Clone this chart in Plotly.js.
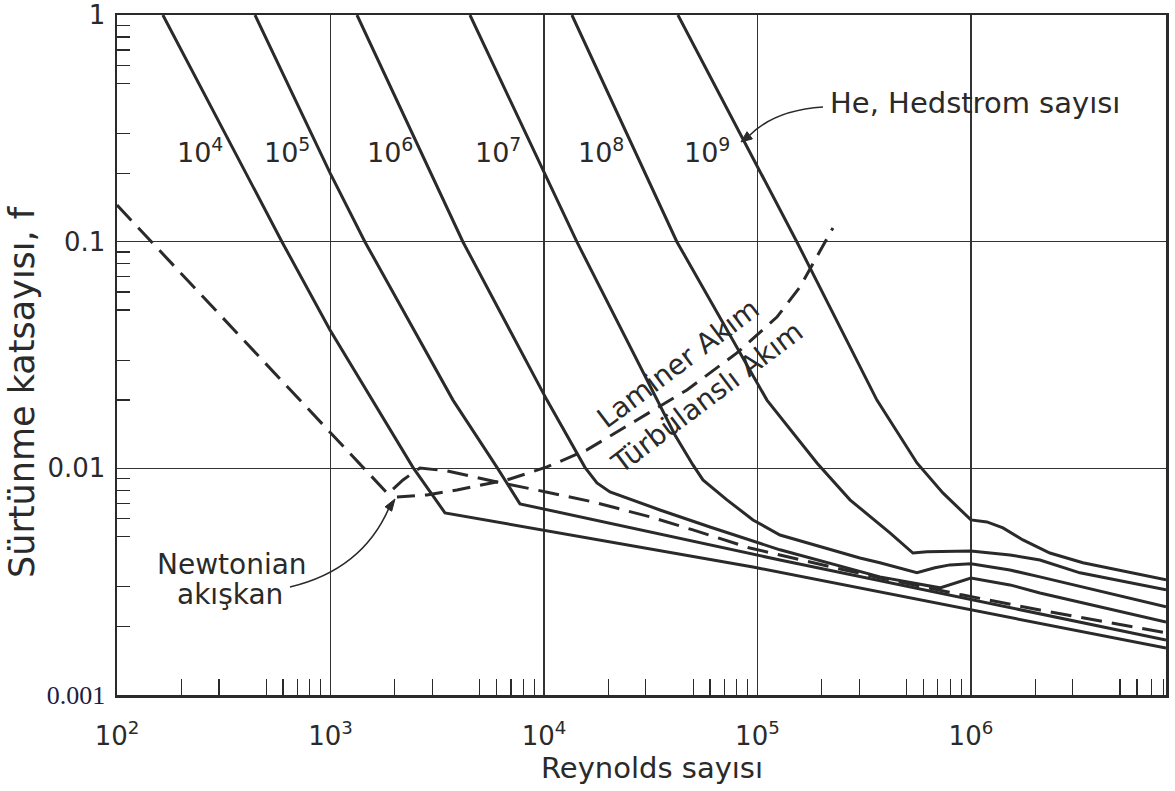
<!DOCTYPE html>
<html><head><meta charset="utf-8">
<script src="https://cdn.plot.ly/plotly-3.0.1.min.js"></script>
<style>html,body{margin:0;padding:0;background:#fff}#chart{width:1175px;height:791px}</style>
</head><body><div id="chart"></div>
<script>
// ---- data (Reynolds number, friction factor f) ----
const he4Re = [164, 593, 995, 1564, 2434, 3438, 95300, 8200000];
const he4F  = [1.0, 0.0997, 0.0408, 0.0200, 0.0101, 0.00636, 0.00367, 0.00161];

const he5Re = [443, 995, 1451, 3748, 6025, 7720, 127500, 8200000];
const he5F  = [1.0, 0.201, 0.0997, 0.0200, 0.0101, 0.00697, 0.00394, 0.00175];

const he6Re = [1331, 4175, 10330, 15560, 17710, 20380, 34940, 59920, 127500, 374800, 715800, 860000, 1000000, 1523000, 2105000, 8200000];
const he6F  = [1.0, 0.0997, 0.0200, 0.0101, 0.00862, 0.00787, 0.00655, 0.00551, 0.00437, 0.00332, 0.00297, 0.00315, 0.00328, 0.00306, 0.00282, 0.0021];

const he7Re = [4502, 14270, 41080, 49870, 55550, 71970, 95300, 127500, 302000, 374800, 558700, 678000, 797000, 1000000, 1523000, 2105000, 8200000];
const he7F  = [1.0, 0.0997, 0.01404, 0.01035, 0.00889, 0.00726, 0.00592, 0.00508, 0.00402, 0.00383, 0.00346, 0.00364, 0.00375, 0.00379, 0.00356, 0.00332, 0.00245];

const he8Re = [13520, 41980, 110800, 190000, 271300, 417500, 535000, 622000, 1000000, 1523000, 2105000, 3240000, 8200000];
const he8F  = [1.0, 0.0997, 0.0200, 0.01056, 0.00726, 0.00519, 0.00423, 0.00428, 0.00432, 0.00415, 0.00394, 0.00346, 0.00291];

const he9Re = [42420, 153100, 362800, 558700, 739000, 1000000, 1188000, 1413000, 1752000, 2344000, 3346000, 8200000];
const he9F  = [1.0, 0.0997, 0.0200, 0.01056, 0.00779, 0.00592, 0.0058, 0.00546, 0.00483, 0.00423, 0.00383, 0.00322];

const newtRe = [100, 1859, 2186, 2625, 3513, 4649, 6025, 10220, 16960, 31370, 49870, 92200, 375000, 917000, 2105000, 8200000];
const newtF  = [0.145, 0.00771, 0.00889, 0.01004, 0.00974, 0.00917, 0.00871, 0.00787, 0.00711, 0.00611, 0.00535, 0.00445, 0.00328, 0.00276, 0.00237, 0.00188];

const transRe = [2049, 2831, 3913, 6709, 10330, 15900, 27260, 46760, 80200, 123400, 158100, 225700];
const transF  = [0.00748, 0.00763, 0.00803, 0.00889, 0.01014, 0.01206, 0.01635, 0.02217, 0.0323, 0.0465, 0.0631, 0.1149];

const hedstromLabels = ['10<sup>4</sup>', '10<sup>5</sup>', '10<sup>6</sup>', '10<sup>7</sup>', '10<sup>8</sup>', '10<sup>9</sup>'];
const xTickVals = [100, 1000, 10000, 100000, 1000000];
const xTickText = ['10<sup>2</sup>', '10<sup>3</sup>', '10<sup>4</sup>', '10<sup>5</sup>', '10<sup>6</sup>'];
const yTickVals = [0.001, 0.01, 0.1, 1];
const yTickText = ['<span style="font-family:\'Liberation Serif\',serif;font-size:26px;fill:#1b2040">0.001</span>', '0.01', '0.1', '1'];
const minorDigits = [2, 3, 5, 6, 7, 8, 9];

// ---- styling ----
const INK = '#2a2a2a';
const FONT = 'DejaVu Sans, Liberation Sans, sans-serif';
const XMAX = 8200000;

function minorVals(lo, hi) {
  const out = [];
  for (let d = lo; d < hi; d++) minorDigits.forEach(m => out.push(m * Math.pow(10, d)));
  return out;
}

const solid = {color: INK, width: 3};
const curves = [[he4Re, he4F], [he5Re, he5F], [he6Re, he6F], [he7Re, he7F], [he8Re, he8F], [he9Re, he9F]];
const traces = curves.map(c => ({x: c[0], y: c[1], mode: 'lines', line: solid, hoverinfo: 'skip'}));
traces.push({x: newtRe, y: newtF, mode: 'lines', line: {color: INK, width: 3, dash: '21px,10px'}, hoverinfo: 'skip'});
traces.push({x: transRe, y: transF, mode: 'lines', line: {color: INK, width: 3, dash: '18px,10px'}, hoverinfo: 'skip'});

const labelX = [0.0791, 0.1621, 0.2603, 0.3632, 0.4614, 0.5624];
const annotations = hedstromLabels.map((t, i) => ({
  xref: 'paper', yref: 'paper', x: labelX[i], y: 0.80, text: t, showarrow: false,
  xanchor: 'center', yanchor: 'middle', font: {family: FONT, size: 27, color: INK}
}));
annotations.push(
  {xref: 'paper', yref: 'paper', x: 0.6778, y: 0.8706, text: 'He, Hedstrom sayısı', showarrow: false,
   xanchor: 'left', yanchor: 'middle', font: {family: FONT, size: 29, color: INK}},
  {xref: 'paper', yref: 'paper', x: 0.1096, y: 0.1912, text: 'Newtonian', showarrow: false,
   xanchor: 'center', yanchor: 'middle', font: {family: FONT, size: 28, color: INK}},
  {xref: 'paper', yref: 'paper', x: 0.1077, y: 0.148, text: 'akışkan', showarrow: false,
   xanchor: 'center', yanchor: 'middle', font: {family: FONT, size: 28, color: INK}},
  {xref: 'paper', yref: 'paper', x: 0.5348, y: 0.4882, text: 'Laminer Akım', showarrow: false, textangle: -37,
   xanchor: 'center', yanchor: 'middle', font: {family: FONT, size: 28, color: INK}},
  {xref: 'paper', yref: 'paper', x: 0.5624, y: 0.4382, text: 'Türbülanslı Akım', showarrow: false, textangle: -37,
   xanchor: 'center', yanchor: 'middle', font: {family: FONT, size: 28, color: INK}},
  {xref: 'paper', yref: 'paper', x: 0.51, y: -0.107, text: 'Reynolds sayısı', showarrow: false,
   xanchor: 'center', yanchor: 'middle', font: {family: FONT, size: 29, color: INK}},
  {xref: 'paper', yref: 'paper', x: -0.0906, y: 0.4456, text: 'Sürtünme katsayısı, f', showarrow: false, textangle: -90,
   xanchor: 'center', yanchor: 'middle', font: {family: FONT, size: 35, color: INK}}
);

const shapes = [
  {type: 'path', xref: 'paper', yref: 'paper', path: 'M0.67302,0.86471 Q0.62727,0.86029 0.60315,0.82309', line: {color: INK, width: 1.6}},
  {type: 'path', xref: 'paper', yref: 'paper', path: 'M0.59485,0.81324 L0.60572,0.81779 L0.60057,0.82838 Z', fillcolor: INK, line: {color: INK, width: 1}},
  {type: 'path', xref: 'paper', yref: 'paper', path: 'M0.16492,0.15882 Q0.23356,0.18382 0.2593,0.275', line: {color: INK, width: 1.6}},
  {type: 'path', xref: 'paper', yref: 'paper', path: 'M0.26501,0.28824 L0.26187,0.27029 L0.25558,0.27676 Z', fillcolor: INK, line: {color: INK, width: 1}}
];

const axisCommon = {
  type: 'log', showline: true, mirror: true, linecolor: INK, linewidth: 2.5,
  showgrid: true, gridcolor: '#333', gridwidth: 1.2, zeroline: false,
  tickmode: 'array', ticks: '', tickfont: {family: FONT, size: 26, color: INK}
};

const layout = {
  width: 1175, height: 791,
  margin: {l: 117, r: 9, t: 15, b: 96},
  paper_bgcolor: '#fff', plot_bgcolor: '#fff',
  showlegend: false, hovermode: false,
  xaxis: Object.assign({}, axisCommon, {
    range: [2, Math.log10(XMAX)], tickvals: xTickVals, ticktext: xTickText, ticklabelstandoff: 16,
    minor: {tickmode: 'array', tickvals: minorVals(2, 7), ticks: 'inside', ticklen: 16, tickwidth: 1.3, tickcolor: INK, showgrid: false}
  }),
  yaxis: Object.assign({}, axisCommon, {
    range: [-3, 0], tickvals: yTickVals, ticktext: yTickText, ticklabelstandoff: 4,
    minor: {tickmode: 'array', tickvals: minorVals(-3, 0), ticks: 'inside', ticklen: 13, tickwidth: 1.3, tickcolor: INK, showgrid: false}
  }),
  annotations: annotations,
  shapes: shapes
};

Plotly.newPlot('chart', traces, layout, {staticPlot: true, displayModeBar: false});
</script>
</body></html>
